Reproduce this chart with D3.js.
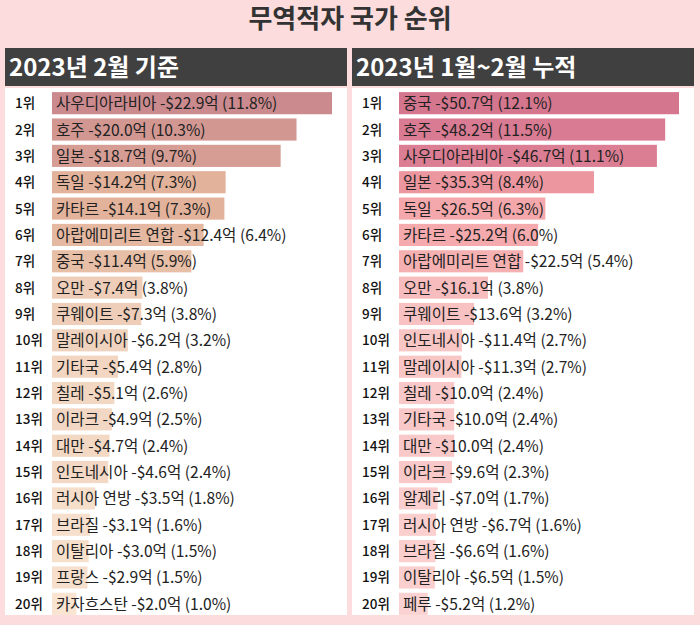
<!DOCTYPE html>
<html><head><meta charset="utf-8">
<script src="https://cdn.jsdelivr.net/npm/d3@7"></script>
<style>body{margin:0;background:#fcdcdc;}svg{display:block;font-family:"Noto Sans CJK KR","Noto Sans",sans-serif;}</style>
</head><body><div id="chart"></div>
<script>
const febNames = ["사우디아라비아","호주","일본","독일","카타르","아랍에미리트 연합","중국","오만","쿠웨이트","말레이시아","기타국","칠레","이라크","대만","인도네시아","러시아 연방","브라질","이탈리아","프랑스","카자흐스탄"];
const febValues = [22.9,20.0,18.7,14.2,14.1,12.4,11.4,7.4,7.3,6.2,5.4,5.1,4.9,4.7,4.6,3.5,3.1,3.0,2.9,2.0];
const febShares = [11.8,10.3,9.7,7.3,7.3,6.4,5.9,3.8,3.8,3.2,2.8,2.6,2.5,2.4,2.4,1.8,1.6,1.5,1.5,1.0];
const cumNames = ["중국","호주","사우디아라비아","일본","독일","카타르","아랍에미리트 연합","오만","쿠웨이트","인도네시아","말레이시아","칠레","기타국","대만","이라크","알제리","러시아 연방","브라질","이탈리아","페루"];
const cumValues = [50.7,48.2,46.7,35.3,26.5,25.2,22.5,16.1,13.6,11.4,11.3,10.0,10.0,10.0,9.6,7.0,6.7,6.6,6.5,5.2];
const cumShares = [12.1,11.5,11.1,8.4,6.3,6.0,5.4,3.8,3.2,2.7,2.7,2.4,2.4,2.4,2.3,1.7,1.6,1.6,1.5,1.2];

const W = 700, H = 625;
const svg = d3.select("#chart").append("svg").attr("width", W).attr("height", H);
svg.append("rect").attr("width", W).attr("height", H).attr("fill", "#fcdcdc");
svg.append("text").attr("x", W / 2).attr("y", 28).attr("text-anchor", "middle")
  .attr("font-size", 26).attr("font-weight", "bold").attr("fill", "#333").text("무역적자 국가 순위");

function panel(x0, title, names, values, shares, colors) {
  const g = svg.append("g").attr("transform", `translate(${x0},0)`);
  g.append("rect").attr("x", 0).attr("y", 48).attr("width", 342).attr("height", 38).attr("fill", "#404040");
  g.append("text").attr("x", 4).attr("y", 76).attr("font-size", 24).attr("font-weight", "bold")
    .attr("fill", "#fff").text(title);
  g.append("rect").attr("x", 0).attr("y", 88).attr("width", 342).attr("height", 527).attr("fill", "#fff");
  const y = d3.scaleBand().domain(d3.range(names.length)).range([90, 617]).paddingInner(0.16).paddingOuter(0.08);
  const x = d3.scaleLinear().domain([0, d3.max(values)]).range([0, 280]);
  const c = d3.scaleLinear().domain([0, d3.max(values) * 0.6, d3.max(values)]).range(colors);
  const row = g.selectAll("g.row").data(names).join("g").attr("class", "row")
    .attr("transform", (d, i) => `translate(0,${y(i)})`);
  row.append("rect").attr("x", 47).attr("width", (d, i) => x(values[i])).attr("height", y.bandwidth())
    .attr("fill", (d, i) => c(values[i]));
  row.append("text").attr("x", 10).attr("y", y.bandwidth() / 2 + 5).attr("font-size", 13.5)
    .attr("font-weight", 500).attr("fill", "#111").text((d, i) => (i + 1) + "위");
  row.append("text").attr("x", 51).attr("y", y.bandwidth() / 2 + 6).attr("font-size", 15.6)
    .attr("fill", "#222")
    .text((d, i) => `${d} -$${values[i].toFixed(1)}억 (${shares[i].toFixed(1)}%)`);
}
panel(5, "2023년 2월 기준", febNames, febValues, febShares, ["#fbecda", "#e3b49b", "#cb8a8e"]);
panel(352, "2023년 1월~2월 누적", cumNames, cumValues, cumShares, ["#fcdcda", "#f3a0a4", "#d5768f"]);
</script></body></html>
